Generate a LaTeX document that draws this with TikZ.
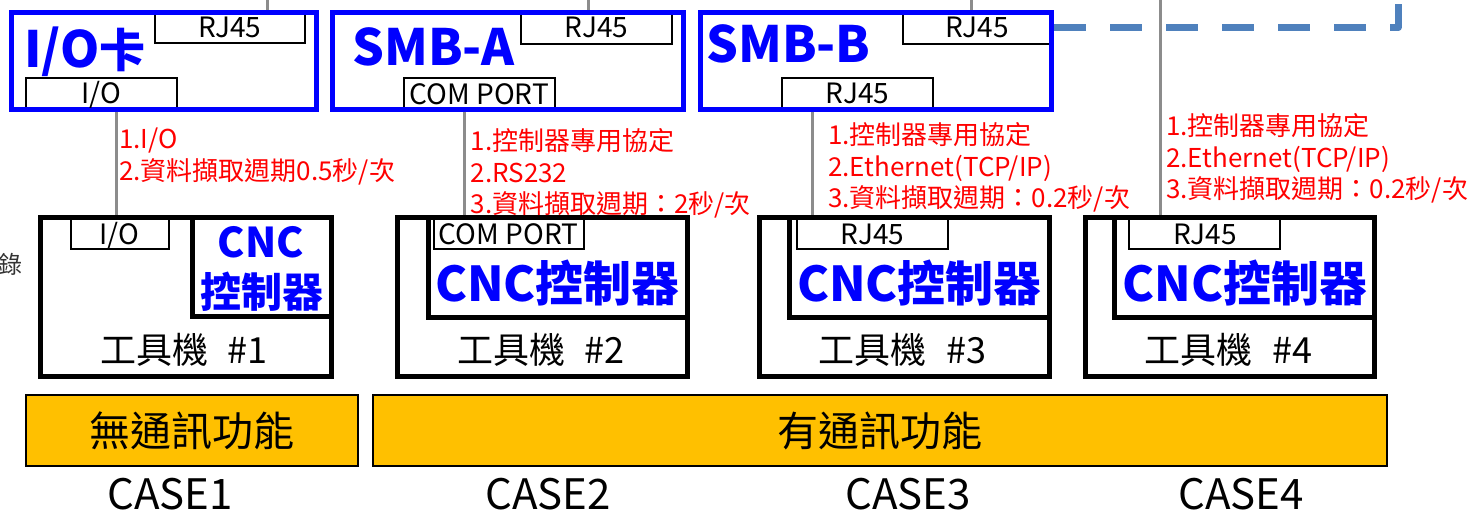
\documentclass[tikz,border=0pt]{standalone}
\usepackage{fontspec}
\setmainfont{Noto Sans CJK TC}
\definecolor{cblue}{HTML}{0000FF}
\definecolor{cred}{HTML}{FF0000}
\definecolor{cgrey}{HTML}{8C8C8C}
\definecolor{cdash}{HTML}{4F81BD}
\definecolor{corange}{HTML}{FFC000}
\definecolor{cside}{HTML}{333333}
\newcommand\mkbox[6]{\node[#1, minimum width={#5-#3}, minimum height={#6-#4}] (#2) at ({(#3+#5)/2},{(#4+#6)/2}) {};}
\newcommand\fs[1]{\fontsize{#1}{#1}\selectfont}
\tikzset{
  bluebox/.style={draw=cblue, line width=5pt, inner sep=0pt},
  machbox/.style={draw=black, line width=5pt, inner sep=0pt},
  cncbox/.style={draw=black, line width=5pt, inner sep=0pt},
  lblbox/.style={draw=black, line width=2pt, fill=white, inner sep=0pt},
  bar/.style={draw=black, line width=2pt, fill=corange, inner sep=0pt},
  gl/.style={draw=cgrey, line width=3pt},
  dashline/.style={draw=cdash, line width=7pt, dash pattern=on 32pt off 24pt, line join=round},
  lbl/.style={inner sep=0pt, font=\fs{28}},
  redtxt/.style={inner sep=0pt, anchor=base west, text=cred, font=\fs{26}},
  bigblue/.style={inner sep=0pt, text=cblue, font=\fs{50}\bfseries},
  cncblue/.style={inner sep=0pt, text=cblue, font=\fs{48}\bfseries, anchor=base},
  cncsmall/.style={inner sep=0pt, text=cblue, font=\fs{41}\bfseries, anchor=base},
  machtxt/.style={inner sep=0pt, font=\fs{36}, anchor=base},
  bartxt/.style={inner sep=0pt, font=\fs{41}, anchor=base},
  casetxt/.style={inner sep=0pt, font=\fs{42}, anchor=base}
}
\begin{document}
\begin{tikzpicture}[x=1pt,y=-1pt]
\useasboundingbox (0,0) rectangle (1476,515);
\clip (0,0) rectangle (1476,515);

% coordinates for connector positions
\coordinate (g1) at (267,0);
\coordinate (g2) at (588,0);
\coordinate (g3) at (971.5,0);
\coordinate (g4) at (1160.5,0);
\coordinate (v1) at (116.7,0);
\coordinate (v2) at (464.3,0);
\coordinate (v3) at (812.3,0);
\coordinate (dEnd) at (1398,-2);

% ---- top boxes ----
\mkbox{lblbox}{ioR}{154.5}{14}{305}{43}
\mkbox{lblbox}{ioI}{26}{77.5}{176.5}{108}
\mkbox{lblbox}{aR}{521}{14}{672}{43.5}
\mkbox{lblbox}{aC}{403.7}{77.5}{555}{108}
\mkbox{lblbox}{bR}{903}{14}{1051.5}{43.5}
\mkbox{lblbox}{bB}{782}{77.5}{933}{108}
\mkbox{bluebox}{io}{11}{12.5}{316}{109}
\mkbox{bluebox}{smbA}{332}{12.5}{683}{109}
\mkbox{bluebox}{smbB}{700}{12.5}{1051.5}{109}

\node[lbl, anchor=base] (tioR) at (229.75,37.5) {RJ45};
\node[lbl, anchor=base] (tioI) at (101,103) {I/O};
\node[lbl, anchor=base] (taR) at (596.5,37.5) {RJ45};
\node[lbl, anchor=base] (taC) at (479.4,104) {COM PORT};
\node[lbl, anchor=base] (tbR) at (977,37.5) {RJ45};
\node[lbl, anchor=base] (tbB) at (857.5,103.5) {RJ45};

\node[bigblue, anchor=base west] (tIO) at (24,67) {I/O{\fs{46}卡}};
\node[bigblue, anchor=base west] (tA) at (352,65) {SMB-A};
\node[bigblue, anchor=base west] (tB) at (706,62) {SMB-B};

% ---- machines ----
\mkbox{cncbox}{c1}{192.5}{217.5}{331.5}{316.5}
\mkbox{lblbox}{l1}{71}{218}{169}{249.3}
\mkbox{machbox}{m1}{40.5}{217.5}{331.5}{376.5}

\mkbox{cncbox}{c2}{428}{217.5}{687.5}{317}
\mkbox{lblbox}{l2}{433.7}{218}{583.7}{249.3}
\mkbox{machbox}{m2}{397.5}{217.5}{687.5}{376.5}

\mkbox{cncbox}{c3}{789}{217.5}{1049.5}{317}
\mkbox{lblbox}{l3}{797}{218}{948}{249.3}
\mkbox{machbox}{m3}{759.5}{217.5}{1049.5}{376.5}

\mkbox{cncbox}{c4}{1114.5}{217.5}{1374.5}{317}
\mkbox{lblbox}{l4}{1129.3}{218}{1280.3}{249.3}
\mkbox{machbox}{m4}{1085.5}{217.5}{1374.5}{376.5}

\node[lbl, anchor=base] (tl1) at (119.5,244.5) {I/O};
\node[lbl, anchor=base] (tl2) at (508.5,244.5) {COM PORT};
\node[lbl, anchor=base] (tl3) at (872.5,244.5) {RJ45};
\node[lbl, anchor=base] (tl4) at (1205,244.5) {RJ45};

\node[cncsmall] (cn1a) at (261,257) {CNC};
\node[cncsmall] (cn1b) at (261.5,307) {控制器};
\node[cncblue] (cn2) at (557.5,301.5) {CNC控制器};
\node[cncblue] (cn3) at (919.5,301.5) {CNC控制器};
\node[cncblue] (cn4) at (1245,301.5) {CNC控制器};

\node[machtxt] (mt1) at (184,363) {工具機\hspace{0.55em}\#1};
\node[machtxt] (mt2) at (541,363) {工具機\hspace{0.55em}\#2};
\node[machtxt] (mt3) at (902.5,363) {工具機\hspace{0.55em}\#3};
\node[machtxt] (mt4) at (1228.5,363) {工具機\hspace{0.55em}\#4};

% ---- connectors ----
\draw[gl] (g1) -- (g1 |- io.north);
\draw[gl] (g2) -- (g2 |- smbA.north);
\draw[gl] (g3) -- (g3 |- smbB.north);
\draw[gl] (g4) -- (g4 |- m4.north);
\draw[gl] (v1 |- io.south) -- (v1 |- m1.north);
\draw[gl] (v2 |- smbA.south) -- (v2 |- m2.north);
\draw[gl] (v3 |- smbB.south) -- (v3 |- m3.north);
\draw[dashline] ([yshift=33.25pt]smbB.east) -| (dEnd);

% ---- red annotations ----
\node[redtxt] (r1a) at (119,148) {1.I/O};
\node[redtxt] (r1b) at (119,180) {2.資料擷取週期0.5秒/次};
\node[redtxt] (r2a) at (470.5,150) {1.控制器專用協定};
\node[redtxt] (r2b) at (470.5,182) {2.RS232};
\node[redtxt] (r2c) at (470.5,213) {3.資料擷取週期：2秒/次};
\node[redtxt] (r3a) at (828,144) {1.控制器專用協定};
\node[redtxt] (r3b) at (828,176) {2.Ethernet(TCP/IP)};
\node[redtxt] (r3c) at (828,207) {3.資料擷取週期：0.2秒/次};
\node[redtxt] (r4a) at (1166,135) {1.控制器專用協定};
\node[redtxt] (r4b) at (1166,167) {2.Ethernet(TCP/IP)};
\node[redtxt] (r4c) at (1166,198) {3.資料擷取週期：0.2秒/次};

% ---- bars ----
\mkbox{bar}{bar1}{26}{395.3}{358.3}{466}
\mkbox{bar}{bar2}{373.3}{395.3}{1387}{466}
\node[bartxt] (bt1) at (191.7,446) {無通訊功能};
\node[bartxt] (bt2) at (880,446) {有通訊功能};

% ---- case labels ----
\node[casetxt] (cs1) at (170,509.5) {CASE1};
\node[casetxt] (cs2) at (548,509.5) {CASE2};
\node[casetxt] (cs3) at (908,509.5) {CASE3};
\node[casetxt] (cs4) at (1241,509.5) {CASE4};

% ---- edge fragment ----
\node[inner sep=0pt, anchor=east, text=cside, font=\fs{24}] (side) at (23,264) {錄};
\end{tikzpicture}
\end{document}
